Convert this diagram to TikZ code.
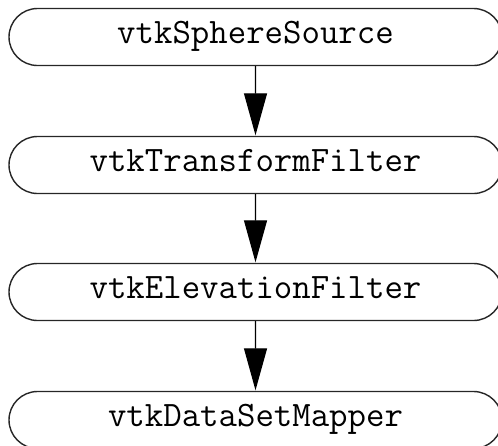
\documentclass[tikz,border=0pt]{standalone}
\usepackage{fontspec}
\usetikzlibrary{shapes.misc,arrows.meta}
\begin{document}
\begin{tikzpicture}[x=1pt,y=-1pt,
  stage/.style={rounded rectangle, draw=black!85, line width=1.4pt,
    minimum width=493pt, minimum height=57pt, inner sep=0pt,
    font=\ttfamily\fontsize{35.8}{35.8}\selectfont,
    text height=21pt, text depth=8pt},
  flow/.style={line width=1.2pt, -{Triangle[length=42pt,width=23pt]}, shorten >=0.5pt}]
\useasboundingbox (0,0) rectangle (498,445);
\clip (0,0) rectangle (498,445);
\node[stage] (s1) at (255.5,37) {vtkSphereSource};
\node[stage] (s2) at (255.5,165) {vtkTransformFilter};
\node[stage] (s3) at (255.5,292) {vtkElevationFilter};
\node[stage] (s4) at (255.5,420) {vtkDataSetMapper};
\draw[flow] (s1) -- (s2);
\draw[flow] (s2) -- (s3);
\draw[flow] (s3) -- (s4);
\end{tikzpicture}
\end{document}
